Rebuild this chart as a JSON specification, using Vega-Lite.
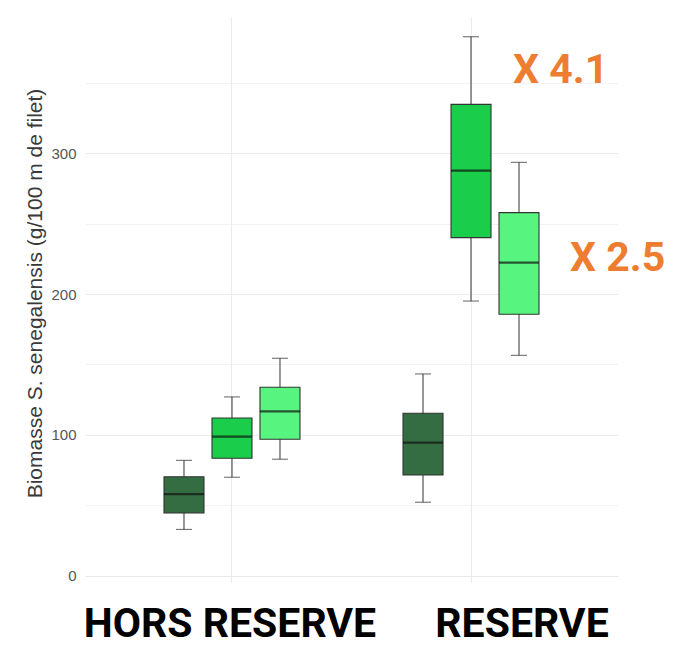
{
  "$schema": "https://vega.github.io/schema/vega-lite/v6.json",
  "autosize": {"type": "none"},
  "width": 533,
  "height": 565,
  "padding": {"left": 85, "top": 17, "right": 73, "bottom": 67},
  "background": "white",
  "config": {"view": {"stroke": null}},
  "datasets": {
    "boxes": [
      {"site": "HORS RESERVE", "groupe": "G1", "min": 33, "q1": 44.7, "median": 58, "q3": 70.4, "max": 82},
      {"site": "HORS RESERVE", "groupe": "G2", "min": 70, "q1": 83.5, "median": 98.8, "q3": 112, "max": 127},
      {"site": "HORS RESERVE", "groupe": "G3", "min": 82.8, "q1": 97, "median": 116.8, "q3": 133.8, "max": 154.4},
      {"site": "RESERVE", "groupe": "G1", "min": 52.3, "q1": 71.6, "median": 94.6, "q3": 115.4, "max": 143.3},
      {"site": "RESERVE", "groupe": "G2", "min": 195, "q1": 240, "median": 287.5, "q3": 334.5, "max": 382.5},
      {"site": "RESERVE", "groupe": "G3", "min": 156.5, "q1": 185.6, "median": 222.2, "q3": 257.7, "max": 293.4}
    ],
    "notes": [
      {"site": "RESERVE", "groupe": "G2", "y": 358, "label": "X 4.1"},
      {"site": "RESERVE", "groupe": "G3", "y": 225, "label": "X 2.5"}
    ]
  },
  "encoding": {
    "x": {
      "field": "site", "type": "nominal",
      "scale": {"domain": ["HORS RESERVE", "RESERVE"], "paddingInner": 0, "paddingOuter": 0.115},
      "axis": {
        "title": null, "grid": true, "gridColor": "#ebebeb", "gridWidth": 1.1, "bandPosition": 0.5,
        "ticks": false, "domain": false, "labelAngle": 0, "labelLimit": 0,
        "labelFont": "Roboto", "labelFontWeight": "bold", "labelFontSize": 41,
        "labelColor": "#000000", "labelPadding": 22, "labelBaseline": "top",
        "labelOffset": {"condition": {"test": "datum.value === 'RESERVE'", "value": 51}, "value": -2}
      }
    },
    "xOffset": {
      "field": "groupe", "type": "nominal",
      "scale": {"domain": ["G1", "G2", "G3"], "paddingInner": 0, "paddingOuter": 0.99}
    }
  },
  "layer": [
    {
      "data": {"name": "boxes"},
      "mark": {"type": "rule", "color": "#333333", "strokeWidth": 1},
      "encoding": {
        "y": {
          "field": "min", "type": "quantitative",
          "scale": {"domain": [-4.3, 396.5], "nice": false, "zero": false},
          "axis": {
            "title": "Biomasse S. senegalensis (g/100 m de filet)",
            "titleFont": "Liberation Sans", "titleFontSize": 21, "titleFontWeight": "normal", "titleColor": "#3a3a3a",
            "titleX": -50, "titleY": 276, "titleAngle": -90, "titleBaseline": "middle", "titleAlign": "center",
            "values": [0, 50, 100, 150, 200, 250, 300, 350],
            "labelExpr": "datum.value % 100 == 0 ? datum.label : ''",
            "labelFont": "Liberation Sans", "labelFontSize": 15, "labelColor": "#555555", "labelPadding": 9,
            "ticks": false, "domain": false,
            "grid": true, "gridColor": "#ebebeb",
            "gridWidth": {"condition": {"test": "datum.value % 100 == 0", "value": 1.1}, "value": 0.6}
          }
        },
        "y2": {"field": "max"}
      }
    },
    {
      "data": {"name": "boxes"},
      "mark": {"type": "bar", "width": 40, "stroke": "#333333", "strokeWidth": 1.1},
      "encoding": {
        "y": {"field": "q1", "type": "quantitative"},
        "y2": {"field": "q3"},
        "color": {
          "field": "groupe", "type": "nominal", "legend": null,
          "scale": {"domain": ["G1", "G2", "G3"], "range": ["#356d43", "#1acd4a", "#57f47f"]}
        }
      }
    },
    {
      "data": {"name": "boxes"},
      "mark": {"type": "tick", "size": 40, "thickness": 2.2, "color": "#111111"},
      "encoding": {"y": {"field": "median", "type": "quantitative"}}
    },
    {
      "data": {"name": "boxes"},
      "mark": {"type": "tick", "size": 16, "thickness": 1.1, "color": "#333333"},
      "encoding": {"y": {"field": "min", "type": "quantitative"}}
    },
    {
      "data": {"name": "boxes"},
      "mark": {"type": "tick", "size": 16, "thickness": 1.1, "color": "#333333"},
      "encoding": {"y": {"field": "max", "type": "quantitative"}}
    },
    {
      "data": {"name": "notes"},
      "transform": [{"filter": "datum.label === 'X 4.1'"}],
      "mark": {"type": "text", "dx": 42, "align": "left", "baseline": "middle", "font": "Roboto", "fontWeight": "bold", "fontSize": 41, "color": "#ed7d31", "clip": false},
      "encoding": {
        "y": {"field": "y", "type": "quantitative"},
        "text": {"field": "label"}
      }
    },
    {
      "data": {"name": "notes"},
      "transform": [{"filter": "datum.label === 'X 2.5'"}],
      "mark": {"type": "text", "dx": 51, "align": "left", "baseline": "middle", "font": "Roboto", "fontWeight": "bold", "fontSize": 41, "color": "#ed7d31", "clip": false},
      "encoding": {
        "y": {"field": "y", "type": "quantitative"},
        "text": {"field": "label"}
      }
    }
  ]
}
